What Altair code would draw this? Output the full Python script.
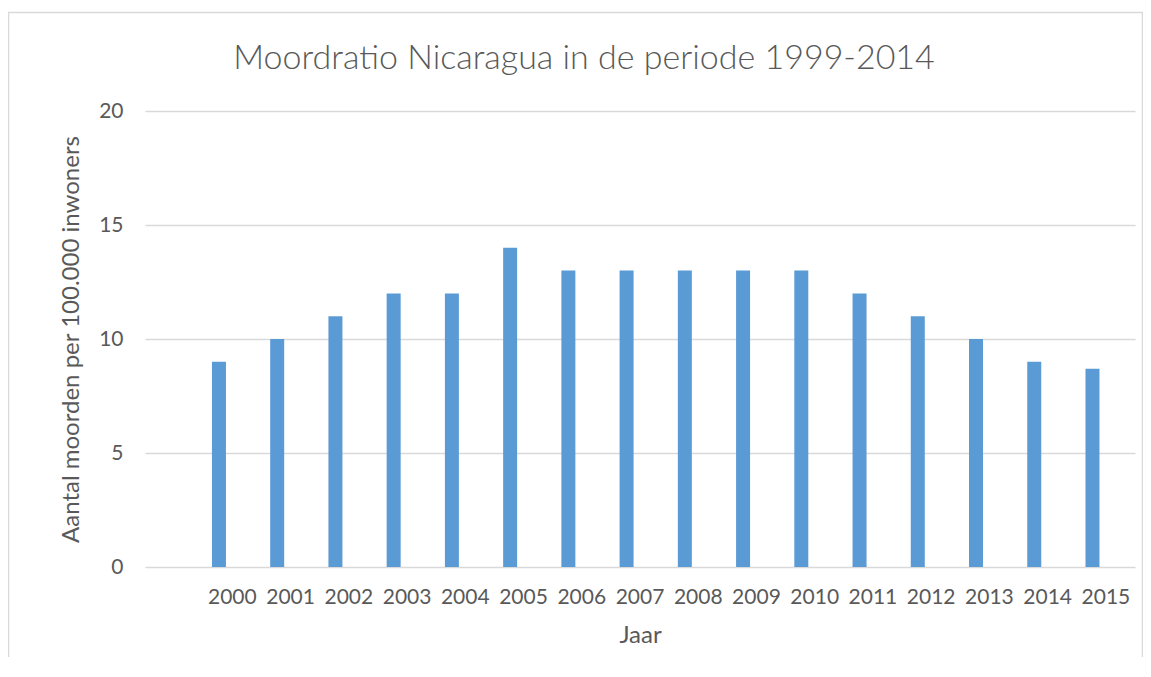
import altair as alt
import pandas as pd

years = ["2000", "2001", "2002", "2003", "2004", "2005", "2006", "2007",
         "2008", "2009", "2010", "2011", "2012", "2013", "2014", "2015"]
rates = [9, 10, 11, 12, 12, 14, 13, 13, 13, 13, 13, 12, 11, 10, 9, 8.7]
x_domain = [" "] + years
y_ticks = [0, 5, 10, 15, 20]

title_text = "Moordratio Nicaragua in de periode 1999-2014"
x_title = "Jaar"
y_title = "Aantal moorden per 100.000 inwoners"

df = pd.DataFrame({"jaar": years, "ratio": rates})

FONT = "Lato"
GREY = "#595959"

bars = alt.Chart(df).mark_bar(size=14, xOffset=-13.4, color="#5B9BD5").encode(
    x=alt.X("jaar:N",
            scale=alt.Scale(domain=x_domain, paddingInner=0, paddingOuter=0),
            axis=alt.Axis(title=x_title, labelAngle=0, ticks=False, domain=False,
                          labelPadding=19, titlePadding=16, labelFontSize=21,
                          titleFontSize=24, labelColor=GREY, titleColor=GREY,
                          labelFont=FONT, titleFont=FONT, titleFontWeight="normal")),
    y=alt.Y("ratio:Q",
            scale=alt.Scale(domain=[0, 20], nice=False),
            axis=alt.Axis(title=y_title, values=y_ticks, ticks=False, domain=False,
                          grid=True, gridColor="#d9d9d9", gridWidth=1.5,
                          labelPadding=22, titlePadding=15, labelFontSize=21,
                          titleFontSize=24, labelColor=GREY, titleColor=GREY,
                          labelFont=FONT, titleFont=FONT, titleFontWeight="normal")),
)

frame = alt.Chart(pd.DataFrame({"a": [0]})).mark_rect(
    fill=None, stroke="#d9d9d9", strokeWidth=1.5
).encode(
    x=alt.value(-136.5), x2=alt.value(997.5),
    y=alt.value(-98.5), y2=alt.value(640),
)

chart = alt.layer(frame, bars).properties(
    width=990,
    height=456,
    title=alt.TitleParams(title_text, font=FONT, fontSize=34, fontWeight=300,
                          color=GREY, anchor="middle", dx=-56, offset=0, dy=64),
    autosize=alt.AutoSizeParams(type="none"),
    padding={"left": 137, "top": 103, "right": 8, "bottom": 90},
).configure(background="white").configure_view(stroke=None)

chart.save("out.html", embed_options={"renderer": "svg", "actions": False})
